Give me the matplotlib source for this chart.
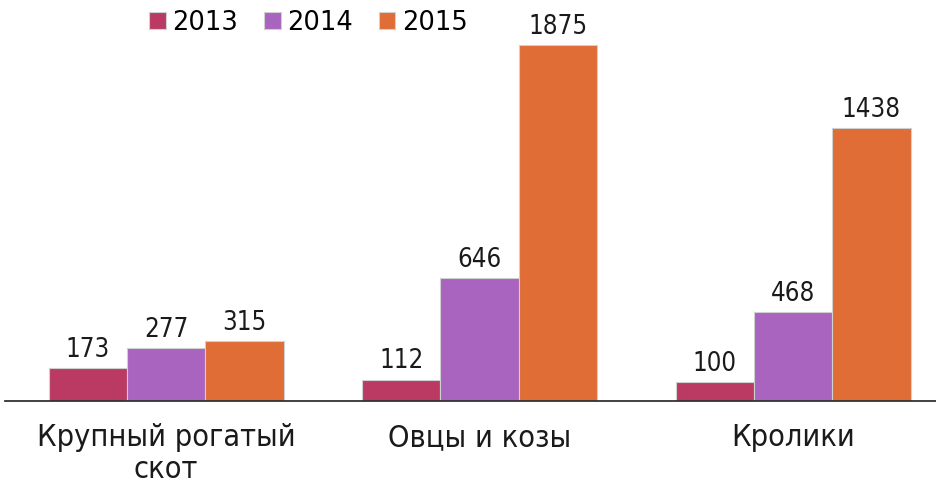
import matplotlib
matplotlib.use("Agg")
import matplotlib.pyplot as plt
import numpy as np
from matplotlib import font_manager

categories = ["Крупный рогатый\nскот", "Овцы и козы", "Кролики"]
years = ["2013", "2014", "2015"]
values_2013 = [173, 112, 100]
values_2014 = [277, 646, 468]
values_2015 = [315, 1875, 1438]
series = [values_2013, values_2014, values_2015]
colors = ["#BA3A64", "#A864BE", "#E06C36"]

cond = [f for f in font_manager.fontManager.ttflist
        if ("Condensed" in f.fname or "Narrow" in f.fname) and "Bold" not in f.fname
        and "Oblique" not in f.fname and "Italic" not in f.fname]
cond.sort(key=lambda f: (0 if "DejaVuSans" in f.fname else 1, f.fname))
if cond:
    fp = font_manager.FontProperties(fname=cond[0].fname)
else:
    fp = font_manager.FontProperties(family="DejaVu Sans")

fig = plt.figure(figsize=(9.36, 4.85), dpi=100)
ax = fig.add_axes([5 / 936, 1 - 402 / 485, 931 / 936, 402 / 485])

x = np.arange(len(categories))
w = 0.25
for i, (vals, yr, c) in enumerate(zip(series, years, colors)):
    bars = ax.bar(x + (i - 1) * w, vals, width=w, color=c, edgecolor="#d0d0d0",
                  linewidth=0.8, label=yr, zorder=2)
    for b, v in zip(bars, vals):
        ax.annotate(f"{v}", (b.get_x() + b.get_width() / 2, v), xytext=(0, 4.5),
                    textcoords="offset points", ha="center", va="bottom",
                    fontproperties=fp, fontsize=18.5, color="#1a1a1a")

ax.set_xlim(-0.514, 2.456)
ax.set_ylim(0, 2117)
for s in ["top", "right", "left"]:
    ax.spines[s].set_visible(False)
ax.spines["bottom"].set_color("#333333")
ax.spines["bottom"].set_linewidth(1.3)
ax.set_yticks([])
ax.set_xticks(x)
ax.set_xticklabels(categories, color="#1a1a1a", linespacing=1.15)
for t in ax.get_xticklabels():
    t.set_fontproperties(fp)
    t.set_fontsize(22)
ax.tick_params(axis="x", length=0, pad=15)

ax.legend(loc="upper left", bbox_to_anchor=(139 / 936, 1.0), bbox_transform=fig.transFigure,
          ncol=3, frameon=False, prop={"family": "DejaVu Sans", "size": 18.5},
          handlelength=0.65, handleheight=0.65,
          handletextpad=0.25, columnspacing=1.0, borderaxespad=0.0)

fig.savefig("out.png", dpi=100)
